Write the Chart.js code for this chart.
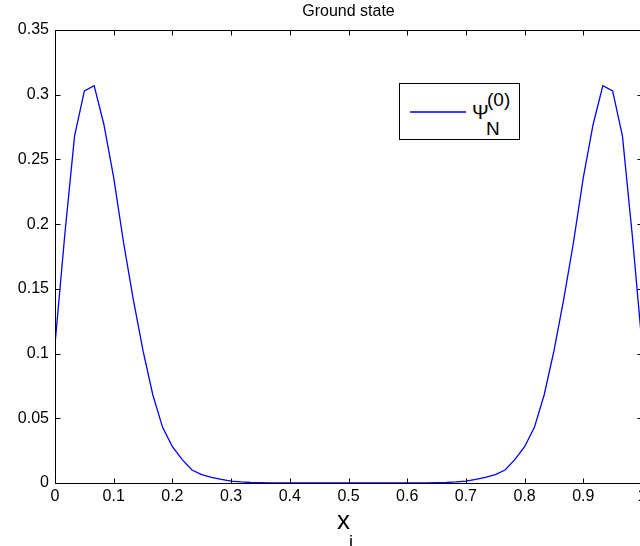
<!DOCTYPE html>
<html><head><meta charset="utf-8">
<script src="https://cdn.jsdelivr.net/npm/chart.js@4/dist/chart.umd.min.js"></script>
<style>
html,body{margin:0;padding:0;background:#fff;overflow:hidden;width:640px;height:546px;}
#wrap{position:absolute;left:0;top:0;width:660px;height:546px;}
canvas{display:block}
.lbl{position:absolute;font-family:"Liberation Sans",Arial,Helvetica,sans-serif;color:#000;line-height:1;white-space:nowrap;}
</style></head><body>
<div id="wrap">
<canvas id="c" width="660" height="546"></canvas>
<span class="lbl" style="left:337px;top:507px;font-size:26px;">x</span>
<span class="lbl" style="left:349px;top:533px;font-size:18px;">i</span>
<div style="position:absolute;left:399px;top:83px;width:121px;height:57px;box-sizing:border-box;border:1px solid #000;background:#fff;">
  <div style="position:absolute;left:10px;top:27px;width:56px;height:2px;background:#3c3cff"></div>
  <span class="lbl" style="left:72px;top:18px;font-size:20px;">Ψ</span>
  <span class="lbl" style="left:87px;top:6px;font-size:19px;">(0)</span>
  <span class="lbl" style="left:86px;top:35px;font-size:19px;">N</span>
</div>
</div>
<script>
const titleText = 'Ground state';
const xVals = [0, 0.0167, 0.0333, 0.05, 0.0667, 0.0833, 0.1, 0.1167, 0.1333, 0.15,
  0.1667, 0.1833, 0.2, 0.2167, 0.2333, 0.25, 0.2667, 0.2833, 0.3, 0.3167,
  0.3333, 0.35, 0.3667, 0.3833, 0.4, 0.4167, 0.4333, 0.45, 0.4667, 0.4833,
  0.5, 0.5167, 0.5333, 0.55, 0.5667, 0.5833, 0.6, 0.6167, 0.6333, 0.65,
  0.6667, 0.6833, 0.7, 0.7167, 0.7333, 0.75, 0.7667, 0.7833, 0.8, 0.8167,
  0.8333, 0.85, 0.8667, 0.8833, 0.9, 0.9167, 0.9333, 0.95, 0.9667, 0.9833, 1];
const psiVals = [0.107, 0.192, 0.268, 0.303, 0.307, 0.277, 0.236, 0.186, 0.142, 0.102,
  0.068, 0.043, 0.028, 0.018, 0.010, 0.0065, 0.0043, 0.0028, 0.0015, 0.0008,
  0.0004, 0.0002, 0.0001, 0, 0, 0, 0, 0, 0, 0,
  0, 0, 0, 0, 0, 0, 0, 0, 0.0001, 0.0002,
  0.0004, 0.0008, 0.0015, 0.0028, 0.0043, 0.0065, 0.010, 0.018, 0.028, 0.043,
  0.068, 0.102, 0.142, 0.186, 0.236, 0.277, 0.307, 0.303, 0.268, 0.192, 0.107];
const xTicks = [0, 0.1, 0.2, 0.3, 0.4, 0.5, 0.6, 0.7, 0.8, 0.9, 1];
const xTickLabels = ['0','0.1','0.2','0.3','0.4','0.5','0.6','0.7','0.8','0.9','1'];
const yTicks = [0, 0.05, 0.1, 0.15, 0.2, 0.25, 0.3, 0.35];
const yTickLabels = ['0','0.05','0.1','0.15','0.2','0.25','0.3','0.35'];

const FONT = '"Liberation Sans", Arial, Helvetica, sans-serif';

const boxTicks = {
  id: 'boxTicks',
  afterDraw(chart) {
    const {ctx, chartArea: a, scales: {x, y}} = chart;
    const L = 5;
    ctx.save();
    ctx.strokeStyle = '#000';
    ctx.lineWidth = 1;
    ctx.beginPath();
    const l = Math.round(a.left) + 0.5, r = Math.round(a.right) + 0.5;
    const t = Math.round(a.top) + 0.5, b = Math.round(a.bottom) + 0.5;
    xTicks.forEach(v => {
      const px = Math.round(x.getPixelForValue(v)) + 0.5;
      ctx.moveTo(px, b); ctx.lineTo(px, b - L);
      ctx.moveTo(px, t); ctx.lineTo(px, t + L);
    });
    yTicks.forEach(v => {
      const py = Math.round(y.getPixelForValue(v)) + 0.5;
      ctx.moveTo(l, py); ctx.lineTo(l + L, py);
      ctx.moveTo(r, py); ctx.lineTo(r - L, py);
    });
    ctx.rect(l, t, r - l, b - t);
    ctx.stroke();
    ctx.restore();
  }
};

new Chart(document.getElementById('c'), {
  type: 'line',
  data: {
    datasets: [{
      label: 'psi',
      data: xVals.map((xv, i) => ({x: xv, y: psiVals[i]})),
      borderColor: '#0000ff',
      borderWidth: 1.3,
      pointRadius: 0,
      tension: 0,
      fill: false
    }]
  },
  options: {
    responsive: false,
    animation: false,
    layout: {padding: {left: 0, right: 18, top: 0, bottom: 0}},
    plugins: {
      legend: {display: false},
      tooltip: {enabled: false},
      title: {
        display: true, text: titleText, fullSize: false, color: '#000',
        font: {family: FONT, size: 16, weight: 'normal', lineHeight: 1},
        padding: {top: 4, bottom: 10}
      }
    },
    scales: {
      x: {
        type: 'linear', min: 0, max: 1,
        grid: {display: false, drawTicks: false},
        border: {display: false},
        afterBuildTicks: s => { s.ticks = xTicks.map(v => ({value: v})); },
        afterFit: s => { s.height = 63; },
        ticks: {
          color: '#000', padding: 4, maxRotation: 0, autoSkip: false,
          font: {family: FONT, size: 16},
          callback: (v, i) => xTickLabels[i]
        }
      },
      y: {
        type: 'linear', min: 0, max: 0.35,
        grid: {display: false, drawTicks: false},
        border: {display: false},
        afterBuildTicks: s => { s.ticks = yTicks.map(v => ({value: v})); },
        afterFit: s => { s.width = 55; },
        ticks: {
          color: '#000', padding: 6, autoSkip: false,
          font: {family: FONT, size: 16},
          callback: (v, i) => yTickLabels[i]
        }
      }
    }
  },
  plugins: [boxTicks]
});
</script>
</body></html>
